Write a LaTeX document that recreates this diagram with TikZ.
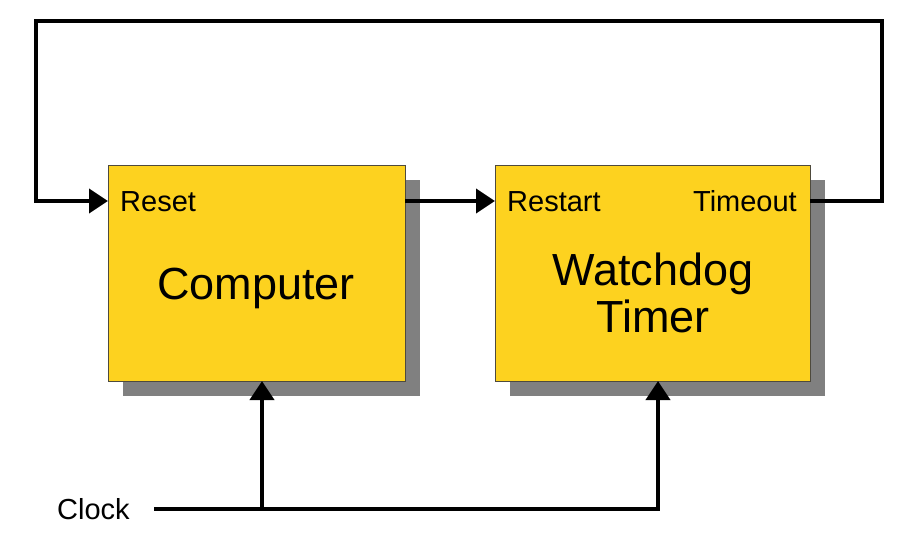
\documentclass[tikz,border=0pt]{standalone}
\usepackage{fontspec}
\setmainfont{Liberation Sans}
\usetikzlibrary{arrows.meta}
\definecolor{boxyellow}{HTML}{FDD21F}
\definecolor{shadowgray}{HTML}{808080}
\tikzset{
  block/.style={draw=black!80!yellow, line width=0.8pt, fill=boxyellow, inner sep=0pt, minimum height=216pt},
  shadowbox/.style={fill=shadowgray, draw=none, inner sep=0pt, minimum height=216pt},
  wire/.style={line width=4pt, line join=miter, line cap=butt},
  arr/.style={wire, -{Triangle[length=19pt,width=24pt]}},
  lbl/.style={font=\fontsize{29}{34}\selectfont, inner sep=0pt},
  title/.style={font=\fontsize{45}{48}\selectfont, inner sep=0pt, align=center},
}
\begin{document}
\begin{tikzpicture}[x=1pt,y=1pt]
\useasboundingbox (0,0) rectangle (907,552);
% shadows
\node[shadowbox, minimum width=297pt] (compsh) at (271.5,264) {};
\node[shadowbox, minimum width=315pt] (wdsh) at (667.5,264) {};
% boxes
\node[block, minimum width=297pt] (comp) at (256.5,279) {};
\node[block, minimum width=315pt] (wd) at (652.5,279) {};
% titles
\node[title, anchor=base] (comptitle) at (256,252) {Computer};
\node[title, anchor=base] (wdtitle1) at (653,266) {Watchdog};
\node[title, anchor=base] (wdtitle2) at (653,219) {Timer};
% labels
\node[lbl, anchor=base west] (reset) at (120,340) {Reset};
\node[lbl, anchor=base west] (restart) at (507,340) {Restart};
\node[lbl, anchor=base east] (timeout) at (797,340) {Timeout};
\node[lbl, anchor=base west] (clock) at (57,33) {Clock};
% coordinates
\coordinate (compin) at (108,351);
\coordinate (compout) at (405,351);
\coordinate (wdin) at (495,351);
\coordinate (wdout) at (810,351);
\coordinate (fr) at (882,351);
\coordinate (trc) at (882,531);
\coordinate (tlc) at (36,531);
\coordinate (fl) at (36,351);
\coordinate (clkstart) at (154,43);
\coordinate (junc) at (262,43);
\coordinate (clkend) at (658,43);
\coordinate (compclk) at (262,171);
\coordinate (wdclk) at (658,171);
% connectors
\draw[arr] (wdout) -- (fr) -- (trc) -- (tlc) -- (fl) -- (compin);
\draw[arr] (compout) -- (wdin);
\draw[arr] (clkstart) -- (clkend) -- (wdclk);
\draw[arr] (junc) -- (compclk);
\end{tikzpicture}
\end{document}
